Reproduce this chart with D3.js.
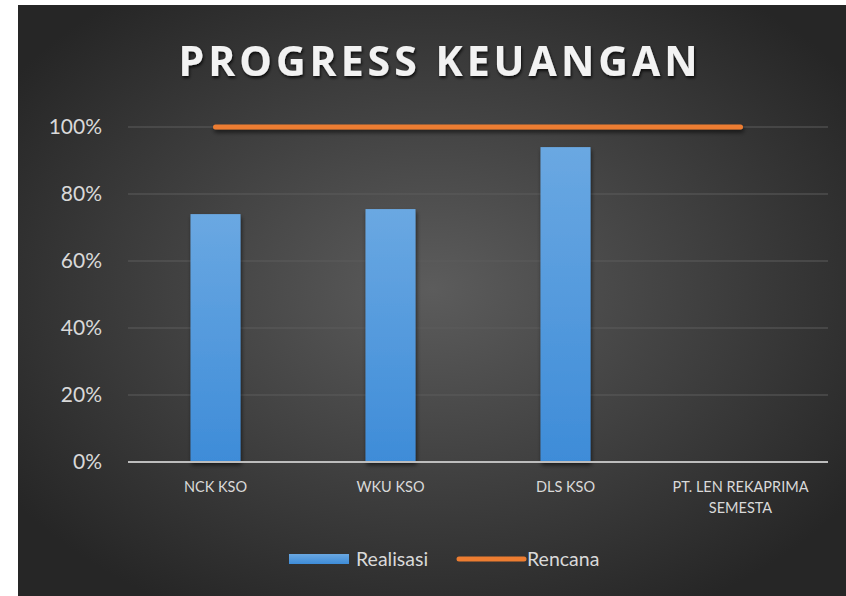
<!DOCTYPE html>
<html>
<head>
<meta charset="utf-8">
<script src="https://cdn.jsdelivr.net/npm/d3@7"></script>
<style>
  html, body { margin: 0; padding: 0; background: #ffffff; }
  svg { display: block; }
</style>
</head>
<body>
<div id="chart"></div>
<script>
const categories = ['NCK KSO', 'WKU KSO', 'DLS KSO', 'PT. LEN REKAPRIMA SEMESTA'];
const categoryLines = [['NCK KSO'], ['WKU KSO'], ['DLS KSO'], ['PT. LEN REKAPRIMA', 'SEMESTA']];
const realisasi = [0.74, 0.755, 0.94, null];
const rencana = [1, 1, 1, 1];
const yTicks = [0, 0.2, 0.4, 0.6, 0.8, 1];

const W = 846, H = 596;
const svg = d3.select('#chart').append('svg')
    .attr('width', W)
    .attr('height', H);

const defs = svg.append('defs');

// Latar belakang gelap dengan gradien radial
const bg = defs.append('radialGradient')
    .attr('id', 'bg')
    .attr('cx', '50%').attr('cy', '48%').attr('r', '62%');
bg.append('stop').attr('offset', '0%').attr('stop-color', '#5c5c5c');
bg.append('stop').attr('offset', '100%').attr('stop-color', '#262626');

const barGrad = defs.append('linearGradient')
    .attr('id', 'barGrad')
    .attr('x1', 0).attr('y1', 0).attr('x2', 0).attr('y2', 1);
barGrad.append('stop').attr('offset', '0%').attr('stop-color', '#6aa8e2');
barGrad.append('stop').attr('offset', '100%').attr('stop-color', '#3e8cd8');

// Bayangan (userSpaceOnUse supaya garis horizontal tetap tampil)
const shadow = defs.append('filter').attr('id', 'shadow')
    .attr('filterUnits', 'userSpaceOnUse')
    .attr('x', 0).attr('y', 0).attr('width', W).attr('height', H);
shadow.append('feDropShadow')
    .attr('dx', 1).attr('dy', 3).attr('stdDeviation', 2)
    .attr('flood-color', '#000').attr('flood-opacity', 0.6);

const titleShadow = defs.append('filter').attr('id', 'titleShadow')
    .attr('filterUnits', 'userSpaceOnUse')
    .attr('x', 0).attr('y', 0).attr('width', W).attr('height', H);
titleShadow.append('feDropShadow')
    .attr('dx', 1).attr('dy', 2).attr('stdDeviation', 1.5)
    .attr('flood-color', '#000').attr('flood-opacity', 0.8);

svg.append('rect')
    .attr('x', 18).attr('y', 5)
    .attr('width', W - 18).attr('height', H - 5)
    .attr('fill', 'url(#bg)');

const plot = { left: 128, right: 828, top: 127, bottom: 462 };
const labelFont = 'Lato, "Open Sans", sans-serif';

const x = d3.scaleBand()
    .domain(categories)
    .range([plot.left, plot.right]);

const y = d3.scaleLinear()
    .domain([0, 1])
    .range([plot.bottom, plot.top]);

// Gridlines
svg.append('g')
    .selectAll('line')
    .data(yTicks.filter(d => d > 0))
    .enter()
    .append('line')
    .attr('x1', plot.left)
    .attr('x2', plot.right)
    .attr('y1', d => y(d))
    .attr('y2', d => y(d))
    .attr('stroke', '#5c5c5c')
    .attr('stroke-width', 1.2);

// Label sumbu Y
const yAxis = svg.append('g')
    .attr('transform', `translate(${plot.left - 26},0)`)
    .call(d3.axisLeft(y).tickValues(yTicks).tickFormat(d3.format('.0%')).tickSize(0));
yAxis.select('.domain').remove();
yAxis.selectAll('text')
    .attr('fill', '#d9d9d9')
    .attr('font-family', labelFont)
    .attr('font-size', '21px')
    .attr('x', 0);

// Batang realisasi
const barW = 50;
svg.append('g')
    .selectAll('rect')
    .data(categories.map((c, i) => ({ c, v: realisasi[i] })).filter(d => d.v != null))
    .enter()
    .append('rect')
    .attr('x', d => x(d.c) + x.bandwidth() / 2 - barW / 2)
    .attr('y', d => y(d.v))
    .attr('width', barW)
    .attr('height', d => y(0) - y(d.v))
    .attr('fill', 'url(#barGrad)')
    .attr('filter', 'url(#shadow)');

// Garis dasar
svg.append('line')
    .attr('x1', plot.left)
    .attr('x2', plot.right)
    .attr('y1', y(0))
    .attr('y2', y(0))
    .attr('stroke', '#bdbdbd')
    .attr('stroke-width', 2);

// Garis rencana
const line = d3.line()
    .x((d, i) => x(categories[i]) + x.bandwidth() / 2)
    .y(d => y(d));
svg.append('path')
    .datum(rencana)
    .attr('d', line)
    .attr('fill', 'none')
    .attr('stroke', '#ed7d31')
    .attr('stroke-width', 5)
    .attr('stroke-linecap', 'round')
    .attr('filter', 'url(#shadow)');

// Label kategori
const catG = svg.append('g');
categories.forEach((c, i) => {
    const t = catG.append('text')
        .attr('x', x(c) + x.bandwidth() / 2)
        .attr('y', 492)
        .attr('text-anchor', 'middle')
        .attr('fill', '#d9d9d9')
        .attr('font-family', labelFont)
        .attr('font-size', '14.5px');
    categoryLines[i].forEach((ln, j) => {
        t.append('tspan')
            .attr('x', x(c) + x.bandwidth() / 2)
            .attr('dy', j === 0 ? 0 : 21)
            .text(ln);
    });
});

// Judul
svg.append('text')
    .attr('x', 440)
    .attr('y', 76)
    .attr('text-anchor', 'middle')
    .attr('fill', '#f2f2f2')
    .attr('font-family', '"Open Sans", sans-serif')
    .attr('font-weight', 'bold')
    .attr('font-size', '41px')
    .attr('letter-spacing', '4px')
    .attr('filter', 'url(#titleShadow)')
    .text('PROGRESS KEUANGAN');

// Legenda
const legend = svg.append('g');
legend.append('rect')
    .attr('x', 289).attr('y', 554)
    .attr('width', 60).attr('height', 10)
    .attr('fill', 'url(#barGrad)');
legend.append('text')
    .attr('x', 356).attr('y', 566)
    .attr('fill', '#d9d9d9')
    .attr('font-family', labelFont)
    .attr('font-size', '19.5px')
    .text('Realisasi');
legend.append('line')
    .attr('x1', 459).attr('x2', 524)
    .attr('y1', 559).attr('y2', 559)
    .attr('stroke', '#ed7d31')
    .attr('stroke-width', 5)
    .attr('stroke-linecap', 'round');
legend.append('text')
    .attr('x', 527).attr('y', 566)
    .attr('fill', '#d9d9d9')
    .attr('font-family', labelFont)
    .attr('font-size', '19.5px')
    .text('Rencana');
</script>
</body>
</html>
